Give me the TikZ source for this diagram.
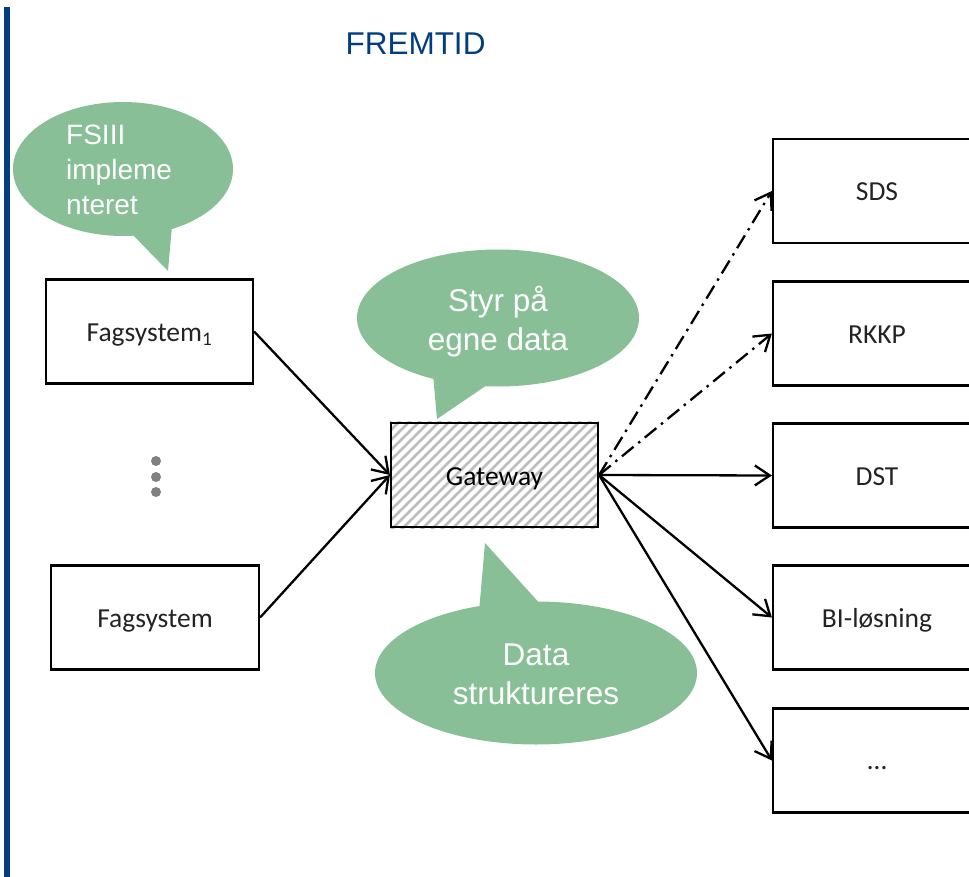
\documentclass[tikz,border=0pt]{standalone}
\usepackage{fontspec}
\setmainfont{Liberation Sans}
\newfontfamily\boxfont{Carlito}
\usetikzlibrary{arrows.meta,shapes.geometric,backgrounds}
\definecolor{fblue}{RGB}{0,62,126}
\definecolor{cgreen}{RGB}{136,191,151}
\definecolor{hgray}{RGB}{190,190,190}
\definecolor{dgray}{RGB}{128,128,128}
\definecolor{btxt}{RGB}{35,35,35}
\tikzset{
  sysbox/.style={draw=black,line width=2.2pt,rectangle,minimum height=104pt,inner sep=0pt,text height=20pt,text depth=0pt,text=btxt,font=\boxfont\fontsize{27.5}{32}\selectfont},
  arr/.style={line width=2.3pt,-{Straight Barb[length=15pt,width=20pt,line width=2.3pt]}},
  dd/.style={arr,dash pattern=on 15pt off 6pt on 2.5pt off 6pt},
  bubble/.style={ellipse,fill=cgreen,draw=none,inner sep=0pt},
  tail/.style={fill=cgreen,draw=none},
  btext/.style={text=white,inner sep=0pt},
  hatch/.style={hgray,line width=2.5pt},
  gdot/.style={circle,fill=dgray,minimum size=10pt,inner sep=0pt}
}
\begin{document}
\begin{tikzpicture}[x=1pt,y=-1pt]
\useasboundingbox (0,0) rectangle (969,877);
\clip (0,0) rectangle (969,877);
% left bar
\fill[fblue] (3.5,7) rectangle (9.5,877);
% title
\node[text=fblue,font=\fontsize{31.5}{36}\selectfont,inner sep=0pt] (title) at (415.5,44) {FREMTID};

% callouts
\node[bubble,minimum width=220pt,minimum height=134pt] (b1) at (123,169) {};
\fill[tail] (130,232) -- (168,271) -- (172,226) -- cycle;
\node[btext,anchor=west,align=left,font=\fontsize{28}{35}\selectfont] (t1) at (66,170) {FSIII\\impleme\\nteret};

\node[bubble,minimum width=282pt,minimum height=137pt] (b2) at (498,318) {};
\fill[tail] (433,374) -- (437,419) -- (490,383) -- cycle;
\node[btext,align=center,font=\fontsize{31.5}{39}\selectfont] (t2) at (498,322) {Styr på\\egne data};

\node[bubble,minimum width=322pt,minimum height=143pt] (b3) at (536,673) {};
\fill[tail] (479,612) -- (485,543) -- (542,606) -- cycle;
\node[btext,align=center,font=\fontsize{31.5}{39}\selectfont] (t3) at (536,674) {Data\\struktureres};

% left boxes
\node[sysbox,minimum width=207pt] (f1) at (149.5,331.5) {Fagsystem\textsubscript{1}};
\node[sysbox,minimum width=208pt] (fn) at (155,617.5) {Fagsystem};
\node[gdot] (d1) at (156,461) {};
\node[gdot] (d2) at (156,477) {};
\node[gdot] (d3) at (156,492) {};

% gateway
\node[sysbox,minimum width=207pt,minimum height=104pt,text=black] (gw) at (494.5,475) {Gateway};
\begin{scope}[on background layer]
  \clip (gw.south west) rectangle (gw.north east);
  \foreach \i in {-120,-110,...,220}
    \draw[hatch] (391+\i,530) -- ++(112,-112);
\end{scope}

% right boxes
\node[sysbox,minimum width=208pt] (sds) at (877,191) {SDS};
\node[sysbox,minimum width=208pt] (rkkp) at (877,333.5) {RKKP};
\node[sysbox,minimum width=208pt] (dst) at (877,475.5) {DST};
\node[sysbox,minimum width=208pt] (bi) at (877,617.5) {BI-løsning};
\node[sysbox,minimum width=208pt,text height=17pt] (more) at (877,760.5) {…};

% connectors
\draw[arr] (f1.east) -- (gw.west);
\draw[arr] (fn.east) -- (gw.west);
\draw[dd] (gw.east) -- (sds.west);
\draw[dd] (gw.east) -- (rkkp.west);
\draw[arr] (gw.east) -- (dst.west);
\draw[arr] (gw.east) -- (bi.west);
\draw[arr] (gw.east) -- (more.west);
\end{tikzpicture}
\end{document}
